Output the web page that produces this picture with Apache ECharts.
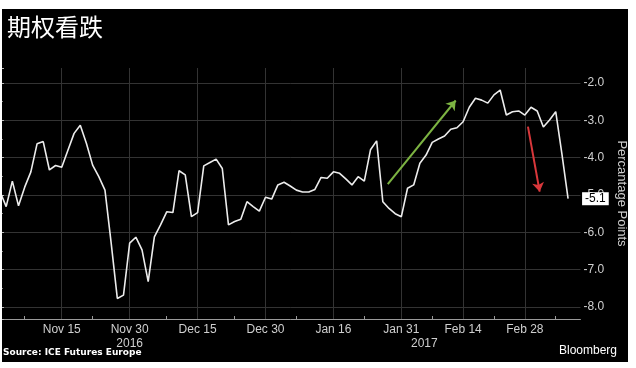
<!DOCTYPE html>
<html><head><meta charset="utf-8">
<script src="https://cdn.jsdelivr.net/npm/echarts@6/dist/echarts.min.js"></script>
<style>html,body{margin:0;padding:0;background:#fff;}#c{width:636px;height:368px;}</style>
</head><body><div id="c"></div>
<script>
// Weekday categories, Nov 1 2016 – Mar 13 2017
const nov = ['Nov 1','Nov 2','Nov 3','Nov 4','Nov 7','Nov 8','Nov 9','Nov 10','Nov 11','Nov 14','Nov 15','Nov 16','Nov 17','Nov 18','Nov 21','Nov 22','Nov 23','Nov 24','Nov 25','Nov 28','Nov 29','Nov 30'];
const dec = ['Dec 1','Dec 2','Dec 5','Dec 6','Dec 7','Dec 8','Dec 9','Dec 12','Dec 13','Dec 14','Dec 15','Dec 16','Dec 19','Dec 20','Dec 21','Dec 22','Dec 23','Dec 26','Dec 27','Dec 28','Dec 29','Dec 30'];
const jan = ['Jan 2','Jan 3','Jan 4','Jan 5','Jan 6','Jan 9','Jan 10','Jan 11','Jan 12','Jan 13','Jan 16','Jan 17','Jan 18','Jan 19','Jan 20','Jan 23','Jan 24','Jan 25','Jan 26','Jan 27','Jan 30','Jan 31'];
const feb = ['Feb 1','Feb 2','Feb 3','Feb 6','Feb 7','Feb 8','Feb 9','Feb 10','Feb 13','Feb 14','Feb 15','Feb 16','Feb 17','Feb 20','Feb 21','Feb 22','Feb 23','Feb 24','Feb 27','Feb 28'];
const mar = ['Mar 1','Mar 2','Mar 3','Mar 6','Mar 7','Mar 8','Mar 9','Mar 10','Mar 13'];
const dates = nov.concat(dec, jan, feb, mar);

// Percentage points
const values = [
  -4.91,-5.31,-4.63,-5.29,-4.79,-4.38,-3.63,-3.57,-4.33,-4.21,
  -4.26,-3.80,-3.35,-3.13,-3.62,-4.20,-4.51,-4.87,-6.28,-7.77,
  -7.68,-6.29,-6.13,-6.47,-7.32,-6.12,-5.80,-5.45,-5.47,-4.35,
  -4.46,-5.58,-5.47,-4.22,-4.13,-4.04,-4.29,-5.80,-5.71,-5.65,
  -5.18,-5.31,-5.43,-5.06,-5.11,-4.73,-4.66,-4.76,-4.87,-4.92,
  -4.92,-4.85,-4.53,-4.55,-4.38,-4.42,-4.57,-4.73,-4.51,-4.63,
  -3.79,-3.55,-5.18,-5.36,-5.50,-5.58,-4.82,-4.73,-4.15,-3.93,
  -3.59,-3.50,-3.42,-3.24,-3.20,-3.04,-2.65,-2.41,-2.46,-2.54,
  -2.32,-2.19,-2.86,-2.77,-2.75,-2.86,-2.65,-2.75,-3.18,-2.99,
  -2.77,-3.90,-5.10
];

const labelDates = ['Nov 15','Nov 30','Dec 15','Dec 30','Jan 16','Jan 31','Feb 14','Feb 28'];
const yearLabels = {'Nov 30': '2016', 'Jan 31': '2017'};
const minorTickIdx = [4, 15, 27, 38, 48, 59, 70, 80, 90];
const lastLabel = '-5.1';
// annotation arrows in data space: [weekday index, value]
const upArrow = [[62.8, -4.71], [73.8, -2.47]];
const downArrow = [[85.5, -3.17], [87.4, -4.91]];

const FONT = 'Liberation Sans';
const LBL = '#cfcfcf';

const chart = echarts.init(document.getElementById('c'), null, {renderer: 'canvas'});
chart.setOption({
  backgroundColor: '#000',
  animation: false,
  title: {
    text: '期权看跌', left: 2, top: 10,
    textStyle: {color: '#fff', fontSize: 24, fontWeight: 'normal', fontFamily: 'Noto Sans CJK SC'}
  },
  grid: {left: 0, right: 48, top: 68, bottom: 49, containLabel: false},
  xAxis: [{
    type: 'category', data: dates, boundaryGap: false,
    axisLine: {lineStyle: {color: '#9a9a9a', width: 1}},
    axisTick: {show: true, inside: true, length: 3, interval: (i) => minorTickIdx.includes(i), lineStyle: {color: '#9a9a9a'}},
    axisLabel: {
      interval: (i, v) => labelDates.includes(v),
      color: LBL, fontSize: 12, fontFamily: FONT, margin: 4, lineHeight: 14,
      formatter: (v) => {
        if (v === 'Jan 31') return v + '\n{yr|' + yearLabels[v] + '}';
        if (yearLabels[v]) return v + '\n' + yearLabels[v];
        return v;
      },
      rich: {yr: {padding: [0, 0, 0, 46], color: LBL, fontSize: 12, fontFamily: FONT, lineHeight: 14}}
    },
    splitLine: {show: true, interval: (i, v) => labelDates.includes(v), lineStyle: {color: '#333', width: 1}}
  }, {
    type: 'value', min: 0, max: dates.length - 1, show: false
  }],
  yAxis: {
    type: 'value', position: 'right', min: -8.32, max: -1.6, splitNumber: 6, minInterval: 1, maxInterval: 1,
    axisLine: {show: true, lineStyle: {color: '#bbb'}},
    axisTick: {show: true, length: 4, lineStyle: {color: '#bbb'}},
    minorTick: {show: true, splitNumber: 2, length: 3, lineStyle: {color: '#888'}},
    axisLabel: {showMinLabel: false, showMaxLabel: false, color: LBL, fontSize: 12, fontFamily: FONT, margin: 3,
      formatter: (v) => v.toFixed(1)},
    splitLine: {show: true, showMinLine: false, showMaxLine: false, lineStyle: {color: '#333'}},
    name: 'Percantage Points', nameLocation: 'middle', nameRotate: -90, nameGap: 34,
    nameTextStyle: {color: LBL, fontSize: 13, fontFamily: FONT}
  },
  series: [{
    type: 'line', data: values, symbol: 'none',
    lineStyle: {color: '#ececec', width: 1.6},
    endLabel: {show: true, formatter: lastLabel, color: '#000', backgroundColor: '#fff',
      padding: [1, 3, 0, 3], fontSize: 12, fontFamily: FONT, distance: 14}
  }, {
    type: 'lines', coordinateSystem: 'cartesian2d', xAxisIndex: 1, yAxisIndex: 0,
    symbol: ['none', 'arrow'], symbolSize: 9,
    lineStyle: {width: 2, opacity: 1},
    data: [
      {coords: upArrow, lineStyle: {color: '#7cb342'}},
      {coords: downArrow, lineStyle: {color: '#d9373b'}}
    ]
  }],
  graphic: [
    {type: 'text', left: 3, top: 348, style: {text: 'Source: ICE Futures Europe', fill: '#fff', font: 'bold 9px "DejaVu Sans"'}},
    {type: 'text', right: 19, top: 345, style: {text: 'Bloomberg', fill: '#fff', font: '12px "Liberation Sans"'}},
    {type: 'rect', shape: {x: 0, y: 0, width: 636, height: 9}, style: {fill: '#fff'}, z: 100},
    {type: 'rect', shape: {x: 628, y: 0, width: 8, height: 368}, style: {fill: '#fff'}, z: 100},
    {type: 'rect', shape: {x: 0, y: 362, width: 636, height: 6}, style: {fill: '#fff'}, z: 100},
    {type: 'rect', shape: {x: 0, y: 0, width: 2, height: 368}, style: {fill: '#fff'}, z: 100}
  ]
});
</script>
</body></html>
